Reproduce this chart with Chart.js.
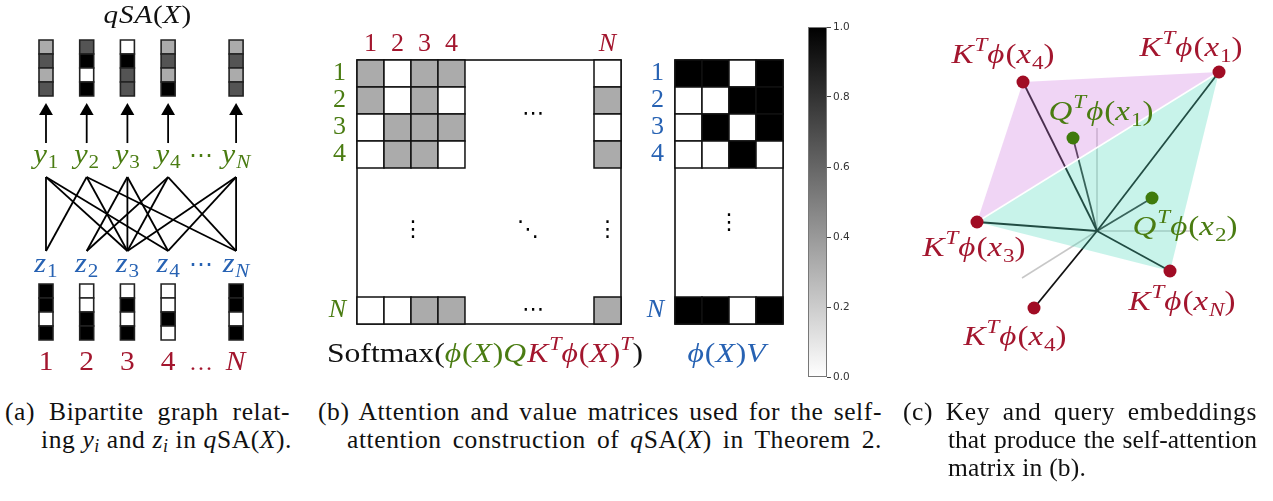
<!DOCTYPE html>
<html>
<head>
<meta charset="utf-8">
<title>qSA figure</title>
<script src="https://cdn.jsdelivr.net/npm/chart.js@4.4.1/dist/chart.umd.min.js"></script>
<style>
  body { margin: 0; background: #fff; }
  #page { position: relative; width: 1273px; height: 501px; overflow: hidden; }
  canvas { position: absolute; top: 0; }
  .cap { position: absolute; font: 25.5px/28px "Liberation Serif", serif; letter-spacing: 0.6px; color: #111; white-space: nowrap; }
  .j { text-align: justify; text-align-last: justify; }
  .cap sub { font-size: 70%; line-height: 0; vertical-align: -0.25em; }
</style>
</head>
<body>
<div id="page">
  <canvas id="graph" width="300" height="380" style="left:0"></canvas>
  <canvas id="attn" width="350" height="380" style="left:300px"></canvas>
  <canvas id="vals" width="165" height="380" style="left:630px"></canvas>
  <canvas id="cbar" width="90" height="390" style="left:790px"></canvas>
  <canvas id="embed" width="383" height="380" style="left:890px"></canvas>

  <div class="cap j" style="left:5px;top:398px;width:285px">(a) Bipartite graph relat-</div>
  <div class="cap" style="left:41px;top:426px">ing <i>y<sub>i</sub></i> and <i>z<sub>i</sub></i> in <i>q</i>SA(<i>X</i>).</div>
  <div class="cap j" style="left:318px;top:398px;width:564px">(b) Attention and value matrices used for the self-</div>
  <div class="cap j" style="left:347px;top:426px;width:535px">attention construction of <i>q</i>SA(<i>X</i>) in Theorem 2.</div>
  <div class="cap j" style="left:903px;top:398px;width:354px">(c) Key and query embeddings</div>
  <div class="cap j" style="left:948px;top:426px;width:309px;letter-spacing:0">that produce the self-attention</div>
  <div class="cap" style="left:948px;top:454px;letter-spacing:0.2px">matrix in (b).</div>
</div>
<script>
// ---------------- data ----------------
const colNames = ['1', '2', '3', '4', 'N'];

// qSA(X) output vectors drawn above y_1..y_N (entries top to bottom)
const outVecs = [
  [0.33, 0.67, 0.33, 0.67],
  [0.67, 1, 0, 1],
  [0, 1, 0.67, 0.67],
  [0.33, 0.67, 0.33, 1],
  [0.33, 0.67, 0.33, 0.67]
];

// rows of phi(X)V, also the vectors below z_1..z_N
const valueRows = [
  [1, 1, 0, 1],
  [0, 0, 1, 1],
  [0, 1, 0, 1],
  [0, 0, 1, 0],
  [1, 1, 0, 1]
];

// Softmax(phi(X) Q K^T phi(X)^T): row = query i, col = key j
const attnRows = [
  [0.33, 0, 0.33, 0.33, 0],
  [0.33, 0, 0.33, 0, 0.33],
  [0, 0.33, 0.33, 0.33, 0],
  [0, 0.33, 0.33, 0, 0.33],
  [0, 0, 0.33, 0.33, 0.33]
];

const cbarTicks = [0, 0.2, 0.4, 0.6, 0.8, 1.0];

// (c) projected key / query embeddings
const keyLabels = ['x_{4}', 'x_{1}', 'x_{3}', 'x_{N}', 'x_{4}'];
const keyX = [-7.4, 12.2, -12.0, 7.3, -6.3];
const keyY = [14.9, 15.9, 0.9, -4.0, -7.7];
const queryLabels = ['x_{1}', 'x_{2}'];
const queryX = [-2.4, 5.5];
const queryY = [9.3, 3.3];
const axisX = [0, 9.6, -7.5];
const axisY = [10.3, 0, -4.7];
const pinkFace = [0, 1, 2];
const cyanFace = [1, 2, 3];

// ---------------- layout ----------------
const RED = '#a3162e', GREEN = '#4a7c12', BLUE = '#2762b3';
const SERIF = '"Liberation Serif", "DejaVu Serif", "DejaVu Sans", serif';
const SANS = '"DejaVu Sans", sans-serif';

// panel (a): column positions and rows (1 y-unit = one vector cell)
const A_COLS = [1, 2, 3, 4, 5.67];
const A_DOTS = 4.81;
const A_TOP = 0, A_TIP = 5.07, A_BASE = 7.36, A_EDGE_TOP = 9.79, A_EDGE_BOT = 15.07, A_BOT = 17.43;
const A_TITLE = -1.21, A_YLAB = 8.79, A_ZLAB = 16.57, A_NUM = 23.6;

// panel (b): cell centres in the matrix, matrix size in cells
const M_POS = [0.5, 1.5, 2.5, 3.5, 9.28];
const M_SIZE = 9.78;

// panel (c): label offsets (px) from their points
const keyOff = [[-20, -27], [-28, -24], [-3, 26], [12, 31], [-19, 29]];
const queryOff = [[28, -26], [33, 29]];

Chart.defaults.animation = false;
Chart.defaults.events = [];
Chart.defaults.responsive = false;
Chart.defaults.maintainAspectRatio = false;
Chart.defaults.layout.autoPadding = false;
Chart.defaults.plugins.legend.display = false;
Chart.defaults.plugins.tooltip.enabled = false;

function gray(v) {
  const g = Math.round(255 * (1 - v));
  return `rgb(${g},${g},${g})`;
}

function unitPx(scale) {
  return Math.abs(scale.getPixelForValue(1) - scale.getPixelForValue(0));
}

// tiny math typesetter: letters italic, ^{..} sup, _{..} sub, ~{..} roman, [#col] colour switch
function drawMath(ctx, str, x, base, size, color, align = 'center', sx = 1.12) {
  const parts = [];
  let mode = 'n', roman = false, col = color;
  for (let i = 0; i < str.length; i++) {
    const c = str[i];
    if (c === '^' || c === '_') { mode = c === '^' ? 'sup' : 'sub'; i++; continue; }
    if (c === '~') { roman = true; i++; continue; }
    if (c === '}') { mode = 'n'; roman = false; continue; }
    if (c === '[') { const j = str.indexOf(']', i); col = str.slice(i + 1, j); i = j; continue; }
    const s = mode === 'n' ? size : size * 0.7;
    parts.push({ c, s, mode, col, it: !roman && /[A-Za-z\u03d5]/.test(c) });
  }
  let w = 0;
  for (const p of parts) {
    ctx.font = (p.it ? 'italic ' : '') + p.s + 'px ' + SERIF;
    p.x = w;
    w += ctx.measureText(p.c).width + (p.it && p.mode === 'n' ? size * 0.03 : 0);
  }
  w *= sx;
  const x0 = align === 'left' ? x : align === 'right' ? x - w : x - w / 2;
  ctx.save();
  ctx.translate(x0, 0);
  ctx.scale(sx, 1);
  ctx.textAlign = 'left';
  ctx.textBaseline = 'alphabetic';
  for (const p of parts) {
    ctx.font = (p.it ? 'italic ' : '') + p.s + 'px ' + SERIF;
    ctx.fillStyle = p.col;
    const dy = p.mode === 'sup' ? -size * 0.42 : p.mode === 'sub' ? size * 0.2 : 0;
    ctx.fillText(p.c, p.x, base + dy);
  }
  ctx.restore();
}

function drawDots(ctx, glyph, x, y, size, color) {
  ctx.save();
  ctx.font = size + 'px ' + SANS;
  ctx.fillStyle = color;
  ctx.textAlign = 'center';
  ctx.textBaseline = 'middle';
  ctx.fillText(glyph, x, y);
  ctx.restore();
}

const framePlugin = {
  id: 'frame',
  beforeDatasetsDraw(chart, args, opts) {
    const a = chart.chartArea;
    const ctx = chart.ctx;
    ctx.save();
    ctx.strokeStyle = opts.color || '#000';
    ctx.lineWidth = opts.width || 1.5;
    ctx.strokeRect(a.left, a.top, a.right - a.left, a.bottom - a.top);
    ctx.restore();
  }
};

// ---------------- (a) bipartite graph ----------------
function cellDataset(vecs, top) {
  const pts = vecs.flatMap((vec, c) => vec.map((v, r) => ({ x: A_COLS[c], y: top + r + 0.5, v })));
  return {
    data: pts,
    pointStyle: 'rect',
    pointRadius: c => unitPx(c.chart.scales.y) / Math.SQRT2,
    pointBackgroundColor: pts.map(p => gray(p.v)),
    pointBorderColor: '#222',
    pointBorderWidth: 1.6
  };
}

const arrows = A_COLS.map(x => ({
  data: [{ x, y: A_BASE }, { x, y: A_TIP }],
  showLine: true,
  borderColor: '#000',
  borderWidth: 1.8,
  pointStyle: 'triangle',
  pointRadius: [0, 8],
  pointBackgroundColor: '#000',
  pointBorderWidth: 0
}));

const edges = [];
attnRows.forEach((row, i) => row.forEach((w, j) => {
  if (w > 0) {
    edges.push({
      data: [{ x: A_COLS[i], y: A_EDGE_TOP }, { x: A_COLS[j], y: A_EDGE_BOT }],
      showLine: true,
      borderColor: '#000',
      borderWidth: 1.8,
      pointRadius: 0
    });
  }
}));

const graphLabels = {
  id: 'graphLabels',
  afterDraw(chart) {
    const { ctx, scales: { x, y } } = chart;
    drawMath(ctx, 'qSA(X)', x.getPixelForValue(3.49), y.getPixelForValue(A_TITLE), 26, '#111');
    colNames.forEach((n, i) => {
      const px = x.getPixelForValue(A_COLS[i]);
      drawMath(ctx, 'y_{' + n + '}', px, y.getPixelForValue(A_YLAB), 27, GREEN);
      drawMath(ctx, 'z_{' + n + '}', px, y.getPixelForValue(A_ZLAB), 27, BLUE);
      drawMath(ctx, n, px, y.getPixelForValue(A_NUM), 28, RED, 'center', 1.05);
    });
    const dx = x.getPixelForValue(A_DOTS);
    drawMath(ctx, '\u22ef', dx, y.getPixelForValue(A_YLAB), 24, GREEN, 'center', 1);
    drawMath(ctx, '\u22ef', dx, y.getPixelForValue(A_ZLAB), 24, BLUE, 'center', 1);
    drawMath(ctx, '\u2026', dx, y.getPixelForValue(A_NUM), 24, RED, 'center', 1);
  }
};

new Chart(document.getElementById('graph'), {
  type: 'scatter',
  data: { datasets: [cellDataset(outVecs, A_TOP), cellDataset(valueRows, A_BOT), ...arrows, ...edges] },
  options: {
    layout: { padding: 0 },
    scales: {
      x: { display: false, min: -0.13, max: 7.24 },
      y: { display: false, reverse: true, min: -2.857, max: 24.286 }
    }
  },
  plugins: [graphLabels]
});

// ---------------- (b) attention matrix ----------------
function matrixDataset(rows) {
  const pts = rows.flatMap((row, i) => row.map((v, j) => ({ x: M_POS[j], y: M_POS[i], v })));
  return {
    data: pts,
    pointStyle: 'rect',
    pointRadius: c => unitPx(c.chart.scales.y) / Math.SQRT2,
    pointBackgroundColor: pts.map(p => gray(p.v)),
    pointBorderColor: '#111',
    pointBorderWidth: 1.5,
    clip: false
  };
}

function matrixYAxis(width, color) {
  return {
    type: 'linear', position: 'left', reverse: true, min: 0, max: M_SIZE,
    grid: { display: false, drawTicks: false }, border: { display: false },
    afterBuildTicks: s => { s.ticks = M_POS.map(value => ({ value })); },
    afterFit: s => { s.width = width; },
    ticks: {
      autoSkip: false, padding: 11, color,
      font: c => ({ family: SERIF, size: 26, style: c.index === 4 ? 'italic' : 'normal' }),
      callback: (v, i) => colNames[i]
    }
  };
}

const attnText = {
  id: 'attnText',
  afterDraw(chart) {
    const { ctx, scales: { x, y } } = chart;
    drawDots(ctx, '\u22ef', x.getPixelForValue(6.52), y.getPixelForValue(2.0), 22, '#000');
    drawDots(ctx, '\u22ee', x.getPixelForValue(2.07), y.getPixelForValue(6.3), 22, '#000');
    drawDots(ctx, '\u22f1', x.getPixelForValue(6.33), y.getPixelForValue(6.3), 22, '#000');
    drawDots(ctx, '\u22ee', x.getPixelForValue(9.28), y.getPixelForValue(6.3), 22, '#000');
    drawDots(ctx, '\u22ef', x.getPixelForValue(6.52), y.getPixelForValue(9.28), 22, '#000');
    drawMath(ctx, '~{Softmax}([' + GREEN + ']\u03d5(X)Q[' + RED + ']K^{T}\u03d5(X)^{T}[#111])',
      185, 362, 28, '#111', 'center', 1.13);
  }
};

new Chart(document.getElementById('attn'), {
  type: 'scatter',
  data: { datasets: [matrixDataset(attnRows)] },
  options: {
    layout: { padding: { left: 0, top: 0, right: 29, bottom: 56 } },
    scales: {
      x: {
        type: 'linear', position: 'top', min: 0, max: M_SIZE,
        grid: { display: false, drawTicks: false }, border: { display: false },
        afterBuildTicks: s => { s.ticks = M_POS.map(value => ({ value })); },
        afterFit: s => { s.height = 60; },
        ticks: {
          autoSkip: false, maxRotation: 0, padding: 0, color: RED,
          font: c => ({ family: SERIF, size: 26, style: c.index === 4 ? 'italic' : 'normal' }),
          callback: (v, i) => colNames[i]
        }
      },
      y: matrixYAxis(57, GREEN)
    },
    plugins: { frame: { color: '#000', width: 1.5 } }
  },
  plugins: [framePlugin, attnText]
});

// ---------------- (b) value matrix ----------------
const valsText = {
  id: 'valsText',
  afterDraw(chart) {
    const { ctx, scales: { x, y } } = chart;
    drawDots(ctx, '\u22ee', x.getPixelForValue(2.0), y.getPixelForValue(6.04), 22, '#000');
    drawMath(ctx, '\u03d5(X)V', 97, 362, 28, BLUE, 'center', 1.13);
  }
};

new Chart(document.getElementById('vals'), {
  type: 'scatter',
  data: {
    datasets: [(() => {
      const pts = valueRows.flatMap((row, i) => row.map((v, j) => ({ x: j + 0.5, y: M_POS[i], v })));
      return {
        data: pts, pointStyle: 'rect',
        pointRadius: c => unitPx(c.chart.scales.y) / Math.SQRT2,
        pointBackgroundColor: pts.map(p => gray(p.v)),
        pointBorderColor: '#111', pointBorderWidth: 1.5, clip: false
      };
    })()]
  },
  options: {
    layout: { padding: { left: 0, top: 60, right: 12, bottom: 56 } },
    scales: {
      x: { type: 'linear', display: false, min: 0, max: 4 },
      y: matrixYAxis(45, BLUE)
    },
    plugins: { frame: { color: '#000', width: 1.5 } }
  },
  plugins: [framePlugin, valsText]
});

// ---------------- colour bar ----------------
new Chart(document.getElementById('cbar'), {
  type: 'bar',
  data: {
    labels: [''],
    datasets: [{
      data: [1],
      barPercentage: 1,
      categoryPercentage: 1,
      borderWidth: 0,
      backgroundColor: c => {
        const a = c.chart.chartArea;
        if (!a) return '#888';
        const g = c.chart.ctx.createLinearGradient(0, a.bottom, 0, a.top);
        g.addColorStop(0, '#ffffff');
        g.addColorStop(1, '#000000');
        return g;
      }
    }]
  },
  options: {
    layout: { padding: { left: 18, top: 27, right: 0, bottom: 13 } },
    scales: {
      x: { display: false },
      y: {
        position: 'right', min: 0, max: 1,
        border: { display: false },
        grid: { drawOnChartArea: false, drawTicks: true, tickLength: 4, color: '#444' },
        afterBuildTicks: s => { s.ticks = cbarTicks.map(value => ({ value })); },
        afterFit: s => { s.width = 53; },
        ticks: { padding: 2, color: '#333', font: { family: SANS, size: 10.5 }, callback: v => v.toFixed(1) }
      }
    }
  },
  plugins: [{
    id: 'cbarFrame',
    afterDatasetsDraw(chart) {
      const a = chart.chartArea, ctx = chart.ctx;
      ctx.save();
      ctx.strokeStyle = '#777';
      ctx.lineWidth = 1;
      ctx.strokeRect(a.left + 0.5, a.top + 0.5, a.right - a.left - 1, a.bottom - a.top - 1);
      ctx.restore();
    }
  }]
});

// ---------------- (c) embeddings ----------------
const ORIGIN = { x: 0, y: 0 };
const keyPts = keyX.map((x, i) => ({ x, y: keyY[i] }));
const queryPts = queryX.map((x, i) => ({ x, y: queryY[i] }));
const axisPts = axisX.map((x, i) => ({ x, y: axisY[i] }));

const seg = (p, color, width) => ({
  data: [ORIGIN, p], showLine: true, borderColor: color, borderWidth: width, pointRadius: 0, clip: false
});

const faces = {
  id: 'faces',
  beforeDatasetDraw(chart, args) {
    if (args.index !== 1) return;
    const { ctx, scales: { x, y } } = chart;
    const fill = (idx, color) => {
      ctx.beginPath();
      idx.forEach((k, n) => {
        const px = x.getPixelForValue(keyPts[k].x), py = y.getPixelForValue(keyPts[k].y);
        n ? ctx.lineTo(px, py) : ctx.moveTo(px, py);
      });
      ctx.closePath();
      ctx.fillStyle = color;
      ctx.fill();
    };
    ctx.save();
    fill(pinkFace, 'rgba(205,115,222,0.3)');
    fill(cyanFace, 'rgba(72,215,185,0.3)');
    // shared edge
    ctx.strokeStyle = '#fff';
    ctx.lineWidth = 1.5;
    ctx.beginPath();
    ctx.moveTo(x.getPixelForValue(keyPts[2].x), y.getPixelForValue(keyPts[2].y));
    ctx.lineTo(x.getPixelForValue(keyPts[1].x), y.getPixelForValue(keyPts[1].y));
    ctx.stroke();
    ctx.restore();
  },
  afterDraw(chart) {
    const { ctx, scales: { x, y } } = chart;
    keyPts.forEach((p, i) => {
      drawMath(ctx, 'K^{T}\u03d5(' + keyLabels[i] + ')',
        x.getPixelForValue(p.x) + keyOff[i][0], y.getPixelForValue(p.y) + keyOff[i][1] + 8, 28, RED, 'center', 1.18);
    });
    queryPts.forEach((p, i) => {
      drawMath(ctx, 'Q^{T}\u03d5(' + queryLabels[i] + ')',
        x.getPixelForValue(p.x) + queryOff[i][0], y.getPixelForValue(p.y) + queryOff[i][1] + 8, 28, GREEN, 'center', 1.18);
    });
  }
};

new Chart(document.getElementById('embed'), {
  type: 'scatter',
  data: {
    datasets: [
      { data: keyPts, pointRadius: 6.5, pointBackgroundColor: '#a00c24', pointBorderWidth: 0, clip: false },
      { data: queryPts, pointRadius: 6.5, pointBackgroundColor: '#3f7a0c', pointBorderWidth: 0, clip: false },
      ...keyPts.map(p => seg(p, '#111', 1.8)),
      ...queryPts.map(p => seg(p, '#333', 1.8)),
      ...axisPts.map(p => seg(p, 'rgba(0,0,0,0.22)', 1.5))
    ]
  },
  options: {
    layout: { padding: 0 },
    scales: {
      x: { display: false, min: -20.7, max: 17.6 },
      y: { display: false, min: -14.9, max: 23.1 }
    }
  },
  plugins: [faces]
});
</script>
</body>
</html>
